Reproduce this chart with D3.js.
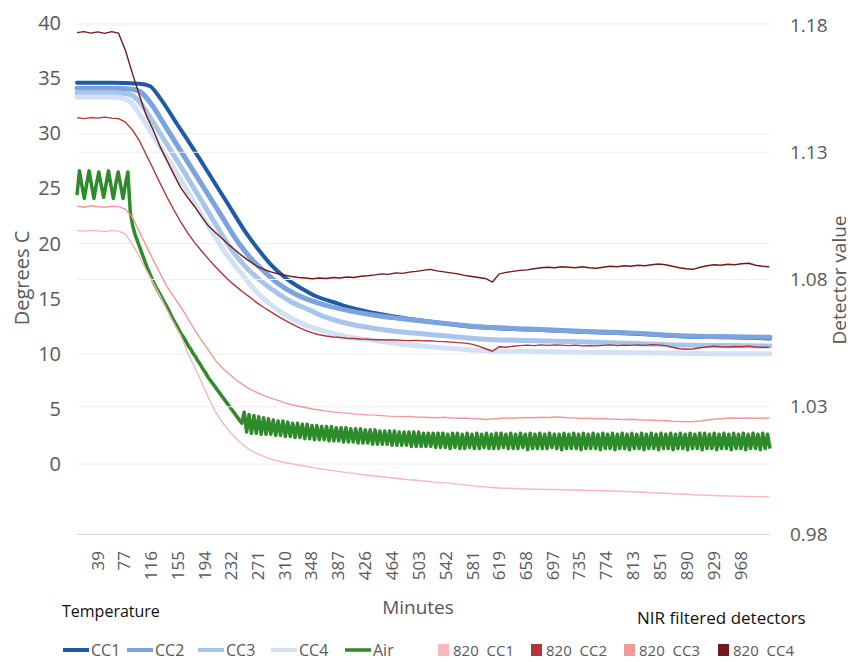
<!DOCTYPE html>
<html><head><meta charset="utf-8">
<script src="https://cdn.jsdelivr.net/npm/d3@7"></script>
<style>
body{margin:0;background:#fff}
svg{display:block}
text{font-family:"Open Sans",sans-serif}
</style>
</head><body>
<svg id="chart" width="852" height="662"></svg>
<script>
// ---------- DATA ----------
const xTicks = [39,77,116,155,194,232,271,310,348,387,426,464,503,542,581,619,658,697,735,774,813,851,890,929,968];
const leftTicks = [0,5,10,15,20,25,30,35,40];
const rightTicks = [0.98,1.03,1.08,1.13,1.18];

// Temperature series: [minute, degrees C]
const cc1 = [[10,34.6],[60,34.6],[100,34.5],[115,34.3],[130,33.2],[154,30.9],[178,28.6],[202,26.2],[226,23.8],[255,20.9],[274,19.3],[290,18.1],[313,16.8],[335,15.9],[356,15.2],[380,14.7],[404,14.2],[440,13.7],[477,13.3],[549,12.7],[592,12.4],[664,12.2],[737,12.0],[809,11.85],[881,11.6],[954,11.5],[1011,11.4]];
const cc2 = [[10,34.1],[60,34.1],[90,34.0],[105,33.6],[118,32.6],[142,30.2],[166,27.8],[190,25.4],[214,23.0],[243,20.1],[262,18.6],[280,17.5],[300,16.4],[323,15.5],[345,14.9],[370,14.4],[404,13.9],[440,13.5],[477,13.2],[549,12.7],[592,12.45],[664,12.25],[737,12.05],[809,11.9],[881,11.65],[954,11.55],[1011,11.5]];
const cc3 = [[10,33.7],[60,33.7],[82,33.6],[97,33.1],[110,32.0],[134,29.6],[158,27.2],[182,24.7],[206,22.2],[235,19.3],[255,17.8],[272,16.8],[295,15.7],[320,14.7],[345,14.0],[370,13.3],[404,12.7],[440,12.3],[477,12.0],[549,11.6],[592,11.35],[664,11.2],[737,11.1],[809,10.95],[881,10.8],[954,10.75],[1011,10.7]];
const cc4 = [[10,33.3],[60,33.3],[75,33.2],[90,32.7],[102,31.6],[126,29.2],[150,26.8],[174,24.3],[198,21.8],[226,19.0],[246,17.4],[264,16.0],[287,14.6],[312,13.5],[340,12.6],[370,12.0],[404,11.5],[440,11.2],[477,10.9],[549,10.5],[592,10.3],[664,10.2],[737,10.15],[809,10.1],[881,10.05],[954,10.0],[1011,10.0]];

// Air temperature, sampled every 3.5 minutes starting at minute 10
const airStartMinute = 10, airStepMinutes = 3.5;
const air = [
 24.4,26.6,25.3,24.1,25.4,26.6,25.3,24.1,25.4,26.5,25.3,24.2,25.4,26.6,25.3,24.1,25.4,26.5,25.3,24.1,25.4,26.5,
 22.8,21.6,20.8,20.2,19.6,19.0,18.4,17.8,17.3,16.8,16.3,15.9,15.5,15.1,14.7,14.3,13.9,13.4,13.0,12.6,12.2,11.8,11.5,11.1,10.7,10.4,10.0,9.7,9.3,9.0,8.6,8.3,7.9,7.6,7.3,7.0,6.7,6.4,6.1,5.8,5.5,5.2,4.9,4.6,4.3,4.0,3.7,
 4.7,2.9,4.5,2.8,4.4,2.8,4.3,2.7,4.2,2.7,4.1,2.7,4.0,2.6,3.9,2.6,3.9,2.5,3.8,2.5,
 3.7,2.4,3.7,2.4,3.6,2.3,3.6,2.3,3.5,2.2,3.5,2.2,3.4,2.2,3.4,2.1,3.4,2.1,3.3,2.1,
 3.3,2.0,3.3,2.0,3.2,2.0,3.2,1.9,3.2,1.9,3.1,1.9,3.1,1.8,3.1,1.8,3.0,1.8,3.0,1.8,
 3.0,1.7,3.0,1.7,2.9,1.7,2.9,1.7,2.9,1.6,2.9,1.6,2.9,1.6,2.8,1.6,2.8,1.6,2.8,1.5,2.8,1.5,
 2.8,1.5,2.7,1.4,2.8,1.5,2.8,1.4,2.7,1.4,2.8,1.5,2.7,1.4,2.8,1.4,2.7,1.5,2.8,1.4,
 2.7,1.4,2.8,1.4,2.8,1.5,2.7,1.4,2.8,1.4,2.7,1.4,2.8,1.5,2.7,1.3,2.8,1.4,2.7,1.4,
 2.8,1.4,2.7,1.4,2.8,1.5,2.7,1.4,2.7,1.3,2.8,1.4,2.7,1.4,2.8,1.4,2.7,1.3,2.8,1.4,
 2.7,1.4,2.8,1.4,2.7,1.3,2.8,1.4,2.7,1.4,2.8,1.3,2.7,1.4,2.8,1.4,2.7,1.3,2.8,1.4,
 2.7,1.4,2.8,1.3,2.7,1.4,2.8,1.4,2.7,1.3,2.8,1.4,2.7,1.4,2.8,1.3,2.7,1.4,2.8,1.4,
 2.7,1.3,2.8,1.4,2.7,1.4,2.8,1.3,2.8,1.4,2.7,1.4,2.8,1.3,2.7,1.4,2.8,1.4,2.7,1.3,
 2.8,1.4,2.7,1.4,2.8,1.3,2.7,1.4,2.8,1.4,2.7,1.3,2.8,1.4,2.7,1.4
];

// NIR filtered detectors, sampled every 10 minutes from minute 10 to 1010
const detStartMinute = 10, detStepMinutes = 10;
const det820cc1 = [
 1.0992,1.0990,1.0993,1.0991,1.0989,1.0992,1.0990,1.0978,1.0937,1.0890,
 1.0837,1.0787,1.0736,1.0680,1.0628,1.0578,1.0510,1.0455,1.0395,1.0335,
 1.0280,1.0238,1.0204,1.0175,1.0150,1.0130,1.0116,1.0104,1.0094,1.0087,
 1.0081,1.0076,1.0071,1.0067,1.0061,1.0057,1.0053,1.0049,1.0045,1.0041,
 1.0038,1.0034,1.0031,1.0028,1.0025,1.0022,1.0019,1.0016,1.0013,1.0011,
 1.0008,1.0006,1.0003,1.0001,0.9999,0.9996,0.9993,0.9990,0.9987,0.9985,
 0.9983,0.9981,0.9980,0.9979,0.9978,0.9977,0.9976,0.9976,0.9975,0.9975,
 0.9974,0.9973,0.9973,0.9972,0.9971,0.9971,0.9970,0.9969,0.9968,0.9967,
 0.9966,0.9965,0.9964,0.9962,0.9961,0.9960,0.9958,0.9957,0.9956,0.9954,
 0.9953,0.9952,0.9951,0.9950,0.9950,0.9949,0.9948,0.9948,0.9947,0.9947,
 0.9946];
const det820cc2 = [
 1.1436,1.1432,1.1436,1.1434,1.1438,1.1434,1.1432,1.1418,1.1388,1.1346,
 1.1290,1.1235,1.1178,1.1124,1.1073,1.1025,1.0982,1.0945,1.0912,1.0880,
 1.0850,1.0822,1.0795,1.0772,1.0750,1.0730,1.0708,1.0690,1.0673,1.0656,
 1.0640,1.0626,1.0612,1.0600,1.0590,1.0583,1.0578,1.0574,1.0572,1.0569,
 1.0568,1.0566,1.0565,1.0563,1.0563,1.0562,1.0562,1.0561,1.0560,1.0561,
 1.0559,1.0560,1.0557,1.0556,1.0554,1.0552,1.0550,1.0546,1.0538,1.0528,
 1.0518,1.0536,1.0534,1.0538,1.0540,1.0542,1.0540,1.0543,1.0541,1.0543,
 1.0542,1.0540,1.0542,1.0539,1.0540,1.0539,1.0541,1.0543,1.0540,1.0542,
 1.0541,1.0543,1.0541,1.0544,1.0543,1.0540,1.0534,1.0528,1.0526,1.0527,
 1.0532,1.0535,1.0538,1.0536,1.0535,1.0537,1.0536,1.0538,1.0535,1.0534,
 1.0534];
const det820cc3 = [
 1.1088,1.1084,1.1090,1.1086,1.1084,1.1088,1.1086,1.1076,1.1045,1.0988,
 1.0932,1.0877,1.0824,1.0772,1.0732,1.0692,1.0647,1.0602,1.0560,1.0522,
 1.0482,1.0452,1.0428,1.0405,1.0386,1.0368,1.0356,1.0344,1.0334,1.0325,
 1.0315,1.0308,1.0302,1.0297,1.0291,1.0287,1.0283,1.0280,1.0277,1.0275,
 1.0272,1.0270,1.0268,1.0267,1.0265,1.0263,1.0262,1.0261,1.0262,1.0260,
 1.0259,1.0258,1.0257,1.0259,1.0256,1.0255,1.0256,1.0254,1.0253,1.0250,
 1.0252,1.0254,1.0256,1.0255,1.0257,1.0258,1.0257,1.0259,1.0258,1.0260,
 1.0259,1.0257,1.0256,1.0254,1.0255,1.0253,1.0254,1.0252,1.0251,1.0250,
 1.0251,1.0249,1.0248,1.0247,1.0246,1.0245,1.0243,1.0242,1.0241,1.0242,
 1.0244,1.0248,1.0251,1.0253,1.0255,1.0256,1.0255,1.0256,1.0255,1.0255,
 1.0256];
const det820cc4 = [
 1.1770,1.1774,1.1768,1.1773,1.1767,1.1774,1.1768,1.1700,1.1610,1.1525,
 1.1445,1.1388,1.1322,1.1267,1.1212,1.1160,1.1122,1.1086,1.1047,1.1010,
 1.0985,1.0960,1.0935,1.0912,1.0890,1.0870,1.0852,1.0840,1.0830,1.0822,
 1.0817,1.0812,1.0808,1.0806,1.0803,1.0806,1.0804,1.0808,1.0806,1.0810,
 1.0808,1.0813,1.0815,1.0818,1.0822,1.0820,1.0826,1.0824,1.0829,1.0832,
 1.0836,1.0840,1.0834,1.0830,1.0826,1.0822,1.0816,1.0812,1.0808,1.0804,
 1.0790,1.0822,1.0828,1.0832,1.0836,1.0838,1.0842,1.0846,1.0848,1.0846,
 1.0850,1.0848,1.0846,1.0850,1.0846,1.0844,1.0848,1.0852,1.0850,1.0854,
 1.0852,1.0856,1.0854,1.0858,1.0861,1.0858,1.0852,1.0846,1.0842,1.0840,
 1.0848,1.0854,1.0858,1.0856,1.0860,1.0858,1.0862,1.0864,1.0856,1.0852,
 1.0850];

const tempNames = ["CC1","CC2","CC3","CC4","Air"];
const detNames = ["820  CC1","820  CC2","820  CC3","820  CC4"];

// ---------- STYLE ----------
const tempColors = ["#1f5aa6","#7ba3de","#a8c5ec","#d3e1f5","#2e8b2a"];
const tempWidths = [4,5,5,5,3.5];
const detColors = ["#f6b8b8","#b23434","#f29a9a","#721a1a"];
const textGray = "#595959";

// ---------- CHART ----------
const svg = d3.select("#chart");
const x = d3.scaleLinear().domain([10, 1011]).range([77, 770]);
const yL = d3.scaleLinear().domain([-6.35, 40]).range([534, 23.2]);
const yR = d3.scaleLinear().domain([0.98, 1.18]).range([534, 25]);

// primary gridlines
svg.append("g").selectAll("line").data([0,10,20,30,40]).join("line")
  .attr("x1", x(10)).attr("x2", x(1011))
  .attr("y1", d => yL(d)).attr("y2", d => yL(d))
  .attr("stroke", "#f0f0f0").attr("stroke-width", 1);

const tempSeries = [cc1, cc2, cc3, cc4];
const lineT = d3.line().x(d => x(d[0])).y(d => yL(d[1])).curve(d3.curveMonotoneX);
tempSeries.forEach((s, i) => {
  svg.append("path").datum(s).attr("d", lineT)
    .attr("fill", "none").attr("stroke", tempColors[i]).attr("stroke-width", tempWidths[i])
    .attr("stroke-linejoin", "round").attr("stroke-linecap", "round");
});

const lineAir = d3.line().x((d, i) => x(airStartMinute + i * airStepMinutes)).y(d => yL(d));
svg.append("path").datum(air).attr("d", lineAir)
  .attr("fill", "none").attr("stroke", tempColors[4]).attr("stroke-width", tempWidths[4])
  .attr("stroke-linejoin", "round");

// secondary gridlines (drawn above temperature lines)
svg.append("g").selectAll("line").data(rightTicks.slice(1)).join("line")
  .attr("x1", x(10)).attr("x2", x(1011))
  .attr("y1", d => yR(d)).attr("y2", d => yR(d))
  .attr("stroke", "#efefef").attr("stroke-width", 1);

const detSeries = [det820cc1, det820cc2, det820cc3, det820cc4];
const lineD = d3.line().x((d, i) => x(detStartMinute + i * detStepMinutes)).y(d => yR(d));
detSeries.forEach((s, i) => {
  svg.append("path").datum(s).attr("d", lineD)
    .attr("fill", "none").attr("stroke", detColors[i]).attr("stroke-width", 1.4)
    .attr("stroke-linejoin", "round");
});

// x axis
const xAxis = svg.append("g").attr("transform", "translate(0,534)")
  .call(d3.axisBottom(x).tickValues(xTicks).tickSize(0).tickFormat(d3.format("d")));
xAxis.select(".domain").attr("stroke", "#d9d9d9").attr("d", `M${x(10)},0.5H${x(1011)}`);
xAxis.selectAll("text")
  .attr("transform", "rotate(-90)")
  .attr("text-anchor", "end")
  .attr("x", -17).attr("y", 0).attr("dy", "0.35em")
  .attr("fill", textGray).style("font-size", "17px").style("font-family", '"Open Sans",sans-serif');

// left axis
const lAxis = svg.append("g").attr("transform", "translate(77,0)")
  .call(d3.axisLeft(yL).tickValues(leftTicks).tickSize(0).tickPadding(16));
lAxis.select(".domain").remove();
lAxis.selectAll("text").attr("fill", textGray).style("font-size", "20px").style("font-family", '"Open Sans",sans-serif');

// right axis
const rAxis = svg.append("g").attr("transform", "translate(772,0)")
  .call(d3.axisRight(yR).tickValues(rightTicks).tickSize(0).tickPadding(18).tickFormat(d3.format(".2f")));
rAxis.select(".domain").remove();
rAxis.selectAll("text").attr("fill", textGray).style("font-size", "19px").style("font-family", '"Open Sans",sans-serif');

// axis titles
svg.append("text").attr("transform", "translate(21,278) rotate(-90)")
  .attr("text-anchor", "middle").attr("dominant-baseline", "central")
  .attr("fill", textGray).style("font-size", "20px").text("Degrees C");
svg.append("text").attr("transform", "translate(839,280) rotate(-90)")
  .attr("text-anchor", "middle").attr("dominant-baseline", "central")
  .attr("fill", textGray).style("font-size", "19px").text("Detector value");
svg.append("text").attr("x", 418).attr("y", 607)
  .attr("text-anchor", "middle").attr("dominant-baseline", "central")
  .attr("fill", textGray).style("font-size", "19px").text("Minutes");

// legend titles
svg.append("text").attr("x", 62).attr("y", 611).attr("dominant-baseline", "central")
  .attr("fill", "#111").style("font-size", "16px").text("Temperature");
svg.append("text").attr("x", 637).attr("y", 617).attr("dominant-baseline", "central")
  .attr("fill", "#111").style("font-size", "17px").text("NIR filtered detectors");

// legend entries
const legY = 650;
const tempLegX = [63,127,198,271,345];
tempNames.forEach((n, i) => {
  svg.append("line").attr("x1", tempLegX[i]).attr("x2", tempLegX[i] + 26)
    .attr("y1", legY).attr("y2", legY)
    .attr("stroke", tempColors[i]).attr("stroke-width", i === 4 ? 3.5 : 4);
  svg.append("text").attr("x", tempLegX[i] + 28).attr("y", legY).attr("dominant-baseline", "central")
    .attr("fill", textGray).style("font-size", "16px").text(n);
});
const detLegX = [438,531,624,718];
detNames.forEach((n, i) => {
  svg.append("rect").attr("x", detLegX[i]).attr("y", legY - 6).attr("width", 11).attr("height", 12)
    .attr("fill", detColors[i]);
  svg.append("text").attr("x", detLegX[i] + 15).attr("y", legY).attr("dominant-baseline", "central")
    .attr("fill", textGray).style("font-size", "15px").style("white-space", "pre").text(n);
});
</script>
</body></html>
